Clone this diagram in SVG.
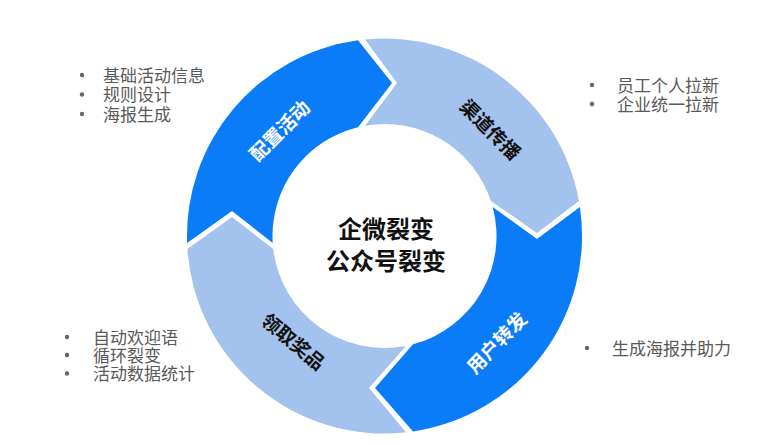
<svg xmlns="http://www.w3.org/2000/svg" width="769" height="445" viewBox="0 0 769 445">
<style>
.dark{fill:#0A7CF7}
.light{fill:#A3C2EE}
.seg{font-family:"Noto Sans CJK SC","Noto Sans",sans-serif;font-size:19px;font-weight:700;text-anchor:middle}
.w{fill:#FFFFFF}
.k{fill:#111111}
.center{font-family:"Noto Sans CJK SC","Noto Sans",sans-serif;font-size:24px;font-weight:700;fill:#111111;text-anchor:middle}
.note{font-family:"Noto Sans CJK SC","Noto Sans",sans-serif;font-size:17px;fill:#595959}
.dot{fill:#666666}
</style>
<rect width="769" height="445" fill="#FFFFFF"/>
<g id="seg-config">
<path class="dark" d="M187.1,243 A197.5,197.5 0 0 1 358,40.3 L392,83 L358,127.2 A112,112 0 0 0 272.7,243 L232,211 Z"/>
<g transform="translate(280,131) rotate(-45)"><text class="seg w" x="0" y="6.6">配置活动</text></g>
</g>
<g id="seg-channel">
<path class="light" d="M365,39.5 A197.5,197.5 0 0 1 578.9,201 L537,233 L490.9,201 A112,112 0 0 0 365,125.7 L397,83 Z"/>
<g transform="translate(490,130) rotate(45)"><text class="seg k" x="0" y="6.6">渠道传播</text></g>
</g>
<g id="seg-forward">
<path class="dark" d="M579.9,207 A197.5,197.5 0 0 1 413,431.4 L375,388 L413,344.3 A112,112 0 0 0 492.7,207 L537,239 Z"/>
<g transform="translate(497,343) rotate(-46)"><text class="seg w" x="0" y="6.6">用户转发</text></g>
</g>
<g id="seg-reward">
<path class="light" d="M406,432.3 A197.5,197.5 0 0 1 187.4,249 L232,217 L273.3,249 A112,112 0 0 0 406,345.9 L369,388 Z"/>
<g transform="translate(293,342) rotate(40)"><text class="seg k" x="0" y="6.6">领取奖品</text></g>
</g>
<g id="center">
<text class="center" x="386" y="237.5">企微裂变</text>
<text class="center" x="386" y="269.5">公众号裂变</text>
</g>
<g id="notes-config">
<circle class="dot" cx="82" cy="75" r="2.2"/>
<circle class="dot" cx="82" cy="94.5" r="2.2"/>
<circle class="dot" cx="82" cy="114" r="2.2"/>
<text class="note" x="103" y="81.5">基础活动信息</text>
<text class="note" x="103" y="101">规则设计</text>
<text class="note" x="103" y="120.5">海报生成</text>
</g>
<g id="notes-channel">
<circle class="dot" cx="592" cy="85" r="2.2"/>
<circle class="dot" cx="592" cy="104" r="2.2"/>
<text class="note" x="617" y="91.5">员工个人拉新</text>
<text class="note" x="617" y="110.5">企业统一拉新</text>
</g>
<g id="notes-reward">
<circle class="dot" cx="67" cy="337" r="2.2"/>
<circle class="dot" cx="67" cy="355" r="2.2"/>
<circle class="dot" cx="67" cy="373.5" r="2.2"/>
<text class="note" x="93" y="343.5">自动欢迎语</text>
<text class="note" x="93" y="361.5">循环裂变</text>
<text class="note" x="93" y="380">活动数据统计</text>
</g>
<g id="notes-forward">
<circle class="dot" cx="587" cy="348" r="2.2"/>
<text class="note" x="612" y="354.5">生成海报并助力</text>
</g>
<g id="connectors"></g>
</svg>
